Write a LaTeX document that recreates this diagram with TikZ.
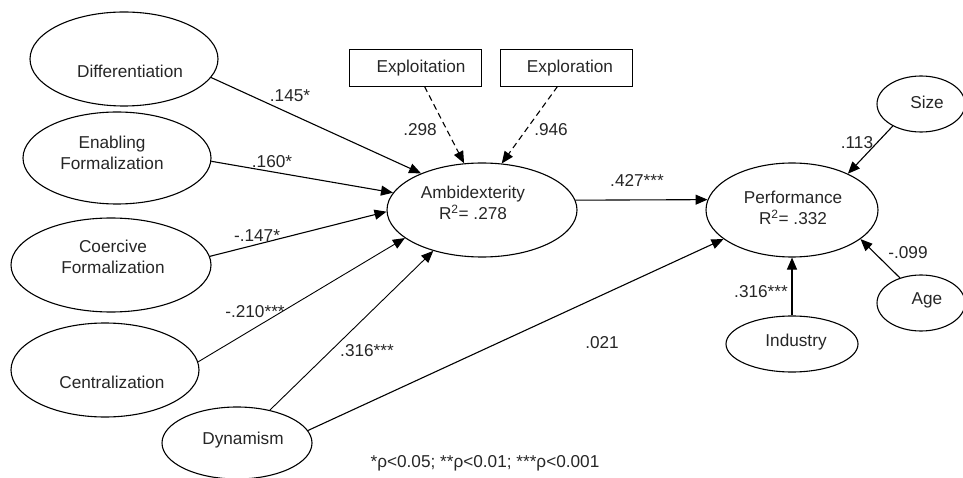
\documentclass[tikz,border=0pt]{standalone}
\usepackage{fontspec}
\setmainfont{Liberation Sans}
\usetikzlibrary{shapes.geometric,arrows.meta}
\tikzset{
  lat/.style={ellipse, draw, line width=1.1pt, inner sep=0pt},
  obs/.style={rectangle, draw, line width=0.9pt, inner sep=0pt, minimum width=132pt, minimum height=37pt},
  txt/.style={inner sep=0pt, align=center, font=\fontsize{17.2}{20.5}\selectfont, text=black!85},
  lbl/.style={inner sep=0pt, font=\fontsize{17.2}{20.5}\selectfont, text=black!85},
  pth/.style={-{Triangle[length=12pt,width=10pt]}, line width=1.1pt},
  dpth/.style={pth, dash pattern=on 6pt off 4pt},
}
\begin{document}
\begin{tikzpicture}[x=1pt,y=-1pt]
\useasboundingbox (0,0) rectangle (963,478);
% latent ellipses
\node[lat, minimum width=188pt, minimum height=94pt] (dif) at (124,59) {};
\node[lat, minimum width=188pt, minimum height=92pt] (enab) at (117,158) {};
\node[lat, minimum width=200pt, minimum height=94pt] (coer) at (111,265) {};
\node[lat, minimum width=188pt, minimum height=94pt] (cent) at (105,370) {};
\node[lat, minimum width=150pt, minimum height=72pt] (dyn) at (237,443) {};
\node[lat, minimum width=190pt, minimum height=94pt] (amb) at (482,210) {};
\node[lat, minimum width=172pt, minimum height=94pt] (perf) at (792,210) {};
\node[lat, minimum width=88pt, minimum height=56pt] (size) at (921,104) {};
\node[lat, minimum width=88pt, minimum height=56pt] (age) at (921,303) {};
\node[lat, minimum width=132pt, minimum height=56pt] (ind) at (792,344) {};
\node[obs] (expt) at (415.5,67.5) {};
\node[obs] (expr) at (566.5,67.5) {};
% texts
\node[txt] (tdif) at (130,71) {Differentiation};
\node[txt] (tenab) at (112,153) {Enabling\\Formalization};
\node[txt] (tcoer) at (113,257) {Coercive\\Formalization};
\node[txt] (tcent) at (112,382) {Centralization};
\node[txt] (tdyn) at (243,440) {Dynamism};
\node[txt] (tamb) at (473,203) {Ambidexterity\\R\textsuperscript{2}= .278};
\node[txt] (tperf) at (793,208) {Performance\\R\textsuperscript{2}= .332};
\node[txt] (tsize) at (927,102) {Size};
\node[txt] (tage) at (927,300) {Age};
\node[txt] (tind) at (796,342) {Industry};
\node[txt] (texpt) at (421,68) {Exploitation};
\node[txt] (texpr) at (570,68) {Exploration};
% connectors
\draw[pth] (dif.-12) -- (amb.149.3);
\draw[pth] (enab.-2.4) -- (amb.169.7);
\draw[pth] (coer.5.7) -- (amb.181.8);
\draw[pth, line width=0.9pt] (cent.5) -- (amb.200.6);
\draw[pth, line width=0.9pt] (dyn.45) -- (amb.220.9);
\draw[pth] (dyn.10.5) -- (perf.203.2);
\draw[pth] (amb.6.2) -- (perf.173.2);
\draw[dpth] ([xshift=9pt]expt.south) -- (amb.111.6);
\draw[dpth] ([xshift=-9pt]expr.south) -- (amb.67.4);
\draw[pth] (size.218.7) -- (perf.33.9);
\draw[pth] (age.130) -- (perf.-23.4);
\draw[pth] (ind.north) -- (perf.south);
% labels
\node[lbl] (l1) at (290,96) {.145*};
\node[lbl] (l2) at (272,162) {.160*};
\node[lbl] (l3) at (257,236) {-.147*};
\node[lbl] (l4) at (255,312) {-.210***};
\node[lbl] (l5) at (367,351) {.316***};
\node[lbl] (l6) at (602,343) {.021};
\node[lbl] (l7) at (420,130) {.298};
\node[lbl] (l8) at (551,130) {.946};
\node[lbl] (l9) at (637,180) {.427***};
\node[lbl] (l10) at (857,143) {.113};
\node[lbl] (l11) at (908,253) {-.099};
\node[lbl] (l12) at (761,292) {.316***};
\node[lbl] (note) at (485,463) {*ρ<0.05; **ρ<0.01; ***ρ<0.001};
\end{tikzpicture}
\end{document}
